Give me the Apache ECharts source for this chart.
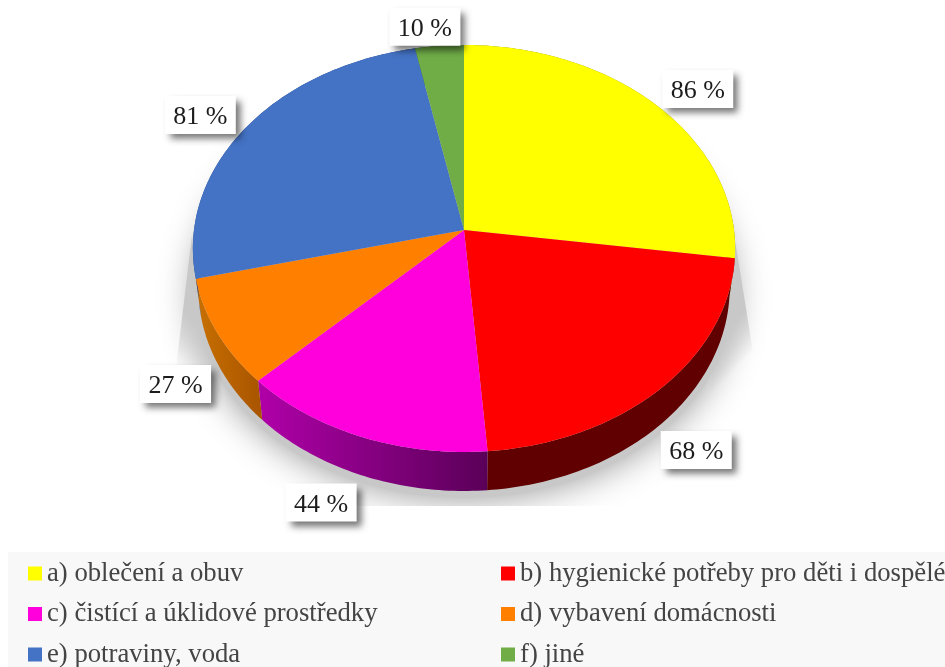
<!DOCTYPE html>
<html><head><meta charset="utf-8">
<style>html,body{margin:0;padding:0;background:#fff;overflow:hidden}#c{width:945px;height:667px}</style>
<script src="https://cdn.jsdelivr.net/npm/echarts@6/dist/echarts.min.js"></script>
</head><body><div id="c"></div>
<script>
const categories = ['a) oblečení a obuv','b) hygienické potřeby pro děti i dospělé','c) čistící a úklidové prostředky','d) vybavení domácnosti','e) potraviny, voda','f) jiné'];
const values = [86,68,44,27,81,10];
const colors = ['#ffff00','#ff0000','#ff00dc','#ff8000','#4472c4','#70ad47'];
const wallColors = [['#8a8a00','#8a8a00'],['#600000','#600000'],['#b000a8','#5a0058'],['#c87000','#a85400'],['#2a4a80','#2a4a80'],['#44702a','#44702a']];
const labelOffsets = [[41.5,-16],[34,62.7],[-39.5,66],[-41.5,51.5],[-46.5,-11.6],[-14.5,-19]];
const leftCol = [0,2,4], rightCol = [1,3,5];

const FONT = '"Liberation Serif","Times New Roman",serif';
const CX=464, CY=230, RX=270, RY=201.8, K=-0.0909, DEPTH=39, SHRINK=0.98;
const total = values.reduce((a,b)=>a+b,0);
const starts = values.map((_,i)=>values.slice(0,i).reduce((a,b)=>a+b,0));
// perspective projection of a circle point at clockwise angle t from 12 o'clock
function rim(t){const u=Math.sin(t),v=-Math.cos(t),d=1+K*v;return [CX+RX*u/d,CY+RY*v/d];}
function low(t,extra,scale){const p=rim(t);return [CX+(p[0]-CX)*(scale||SHRINK),p[1]+(extra||DEPTH)];}
function arc(a,b,f){const n=Math.max(4,Math.ceil(Math.abs(b-a)*60)),o=[];for(let i=0;i<=n;i++)o.push(f(a+(b-a)*i/n));return o;}
const ang=v=>v/total*Math.PI*2;
function fade(x,y,x2,y2,c0,c1){return {type:'linear',global:true,x,y,x2,y2,colorStops:[{offset:0,color:c0},{offset:1,color:c1}]};}
const G0='rgba(200,200,200,1)', G1='rgba(200,200,200,0)';

function renderSlice(i){
  return function(params,api){
    const a=ang(starts[i]), b=ang(starts[i]+api.value(0));
    const top=[[CX,CY]].concat(arc(a,b,rim));
    const wall=arc(a,b,rim).concat(arc(b,a,low));
    const grad={type:'linear',x:0,y:0,x2:1,y2:0,colorStops:[{offset:0,color:wallColors[i][0]},{offset:1,color:wallColors[i][1]}]};
    const m=rim((a+b)/2), o=labelOffsets[i];
    const lx=m[0]+o[0], ly=m[1]+o[1];
    const children=[
      {type:'polygon',z2:2,shape:{points:wall},style:{fill:grad}},
      {type:'polygon',z2:3,shape:{points:top},style:{fill:colors[i]}},
      {type:'rect',z2:10,shape:{x:lx-35.5,y:ly-19,width:71,height:38},style:{fill:'#fff',shadowColor:'rgba(0,0,0,0.55)',shadowBlur:7,shadowOffsetX:5,shadowOffsetY:5}},
      {type:'text',z2:11,x:lx,y:ly+2.5,style:{text:api.value(0)+' %',fill:'#1c1c1c',font:'26px '+FONT,textAlign:'center',textVerticalAlign:'middle'}}
    ];
    if(i===0){
      const ground=arc(0,Math.PI*2,t=>low(t,DEPTH+7,0.99));
      children.unshift(
        {type:'polygon',z2:0,shape:{points:ground},style:{fill:'#c8c8c8',shadowColor:'rgba(0,0,0,0.42)',shadowBlur:36}},
        {type:'polygon',z2:0,shape:{points:[[735,240],[753,352],[708,398],[726,300]]},style:{fill:fade(705,350,730,375,G0,G1)}},
        {type:'polygon',z2:0,shape:{points:[[192,235],[176,368],[224,404],[200,300]]},style:{fill:fade(230,346,200,386,G0,G1)}},
        {type:'rect',z2:1,shape:{x:150,y:506,width:650,height:46},style:{fill:'#fff'}}
      );
    }
    return {type:'group',children};
  };
}
const series=categories.map((name,i)=>({
  type:'custom',name,coordinateSystem:'none',animation:false,silent:true,
  itemStyle:{color:colors[i]},data:[[values[i]]],renderItem:renderSlice(i)
}));
function legend(idx,left){return {
  show:true,orient:'vertical',left,top:560,height:160,padding:0,itemWidth:14,itemHeight:14,itemGap:13.5,icon:'rect',selectedMode:false,
  data:idx.map(i=>categories[i]),
  textStyle:{fontFamily:FONT,fontSize:26.7,color:'#444'}
};}
const chart=echarts.init(document.getElementById('c'),null,{renderer:'canvas'});
chart.setOption({
  backgroundColor:'#fff',animation:false,
  graphic:[{type:'rect',z:-1,silent:true,shape:{x:8,y:552,width:937,height:115},style:{fill:'#f8f8f8'}}],
  legend:[legend(leftCol,28),legend(rightCol,501)],
  series
});
</script></body></html>
